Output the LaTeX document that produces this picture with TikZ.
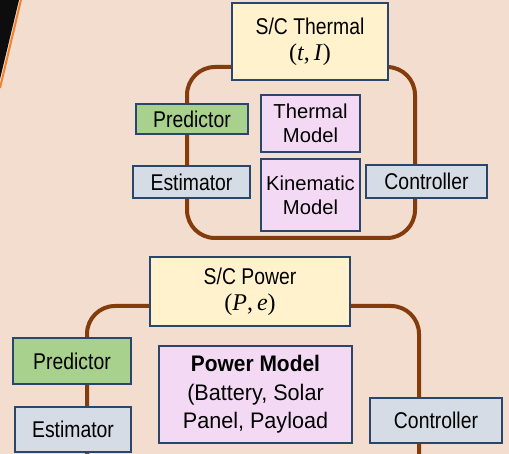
\documentclass[tikz,border=0pt]{standalone}
\usepackage{fontspec}
\setmainfont{Liberation Sans}
\newfontfamily\narrowsans[FakeStretch=0.85]{Liberation Sans}
\newfontfamily\midsans[FakeStretch=0.96]{Liberation Sans}
\newfontfamily\midsansbold[FakeStretch=0.93]{Liberation Sans Bold}
\newfontfamily\varserif{Liberation Serif}
\newcommand{\statevars}[2]{{\varserif\fontsize{24}{26}\selectfont(\textit{#1},\,\textit{#2})}}
\definecolor{bgpeach}{HTML}{F2DDCE}
\definecolor{boxedge}{HTML}{2B466C}
\definecolor{loopbrown}{HTML}{843C0C}
\definecolor{stateyellow}{HTML}{FFF2CC}
\definecolor{predgreen}{HTML}{A9D18E}
\definecolor{estgray}{HTML}{D6DCE5}
\definecolor{modelpink}{HTML}{F4D9F4}
\definecolor{slideorange}{HTML}{F4812C}
\tikzset{
  blk/.style={draw=boxedge, line width=2pt, align=center, inner sep=0pt,
    font=\narrowsans\fontsize{22.8}{26}\selectfont},
  statebox/.style={blk, fill=stateyellow},
  predbox/.style={blk, fill=predgreen},
  estbox/.style={blk, fill=estgray},
  modelbox/.style={blk, fill=modelpink, font=\rmfamily\fontsize{20.2}{24}\selectfont},
  loopline/.style={draw=loopbrown, line width=4pt, rounded corners=28pt},
}
\begin{document}
\begin{tikzpicture}[x=1pt, y=-1pt]
  \useasboundingbox (0,0) rectangle (509,454);
  \fill[bgpeach] (0,0) rectangle (509,454);
  % dark slide corner with its orange edge
  \fill[black!95] (0,0) -- (19,0) -- (0,79) -- cycle;
  \draw[slideorange, line width=2pt] (21,0) -- (0,88);

  % ---- thermal loop ----
  \coordinate (tl) at (187,67);
  \coordinate (br) at (415,238);
  \draw[loopline] (tl) rectangle (br);

  \node[statebox, minimum width=156pt, minimum height=77pt] (thermal) at (310,41.5)
    {S/C Thermal\\\statevars{t}{I}};
  \node[predbox, minimum width=112pt, minimum height=30pt] (predA) at (192,119) {Predictor};
  \node[modelbox, minimum width=99pt, minimum height=57pt] (thermmodel) at (310.5,123.5)
    {Thermal\\Model};
  \node[estbox, minimum width=117pt, minimum height=32pt] (estA) at (191.5,182) {Estimator};
  \node[modelbox, minimum width=99pt, minimum height=72pt] (kinmodel) at (310.5,195)
    {Kinematic\\Model};
  \node[estbox, minimum width=121pt, minimum height=33pt] (ctrlA) at (426.5,181.5) {Controller};

  % ---- power loop ----
  \coordinate (pl) at (87,456);
  \coordinate (pr) at (419,456);
  \draw[loopline] (pl) -- (87,306) -- (419,306) -- (pr);

  \node[statebox, minimum width=200pt, minimum height=69pt] (power) at (250,291.5)
    {S/C Power\\\statevars{P}{e}};
  \node[predbox, minimum width=118pt, minimum height=46pt] (predB) at (72,361) {Predictor};
  \node[estbox, minimum width=116pt, minimum height=45pt] (estB) at (73,429.5) {Estimator};
  \node[modelbox, minimum width=193pt, minimum height=97pt,
        font=\midsans\fontsize{22.5}{28.5}\selectfont] (powermodel) at (255.5,394.5)
    {{\midsansbold Power Model}\\(Battery, Solar\\Panel, Payload};
  \node[estbox, minimum width=132pt, minimum height=45pt] (ctrlB) at (436,420.5) {Controller};
\end{tikzpicture}
\end{document}
